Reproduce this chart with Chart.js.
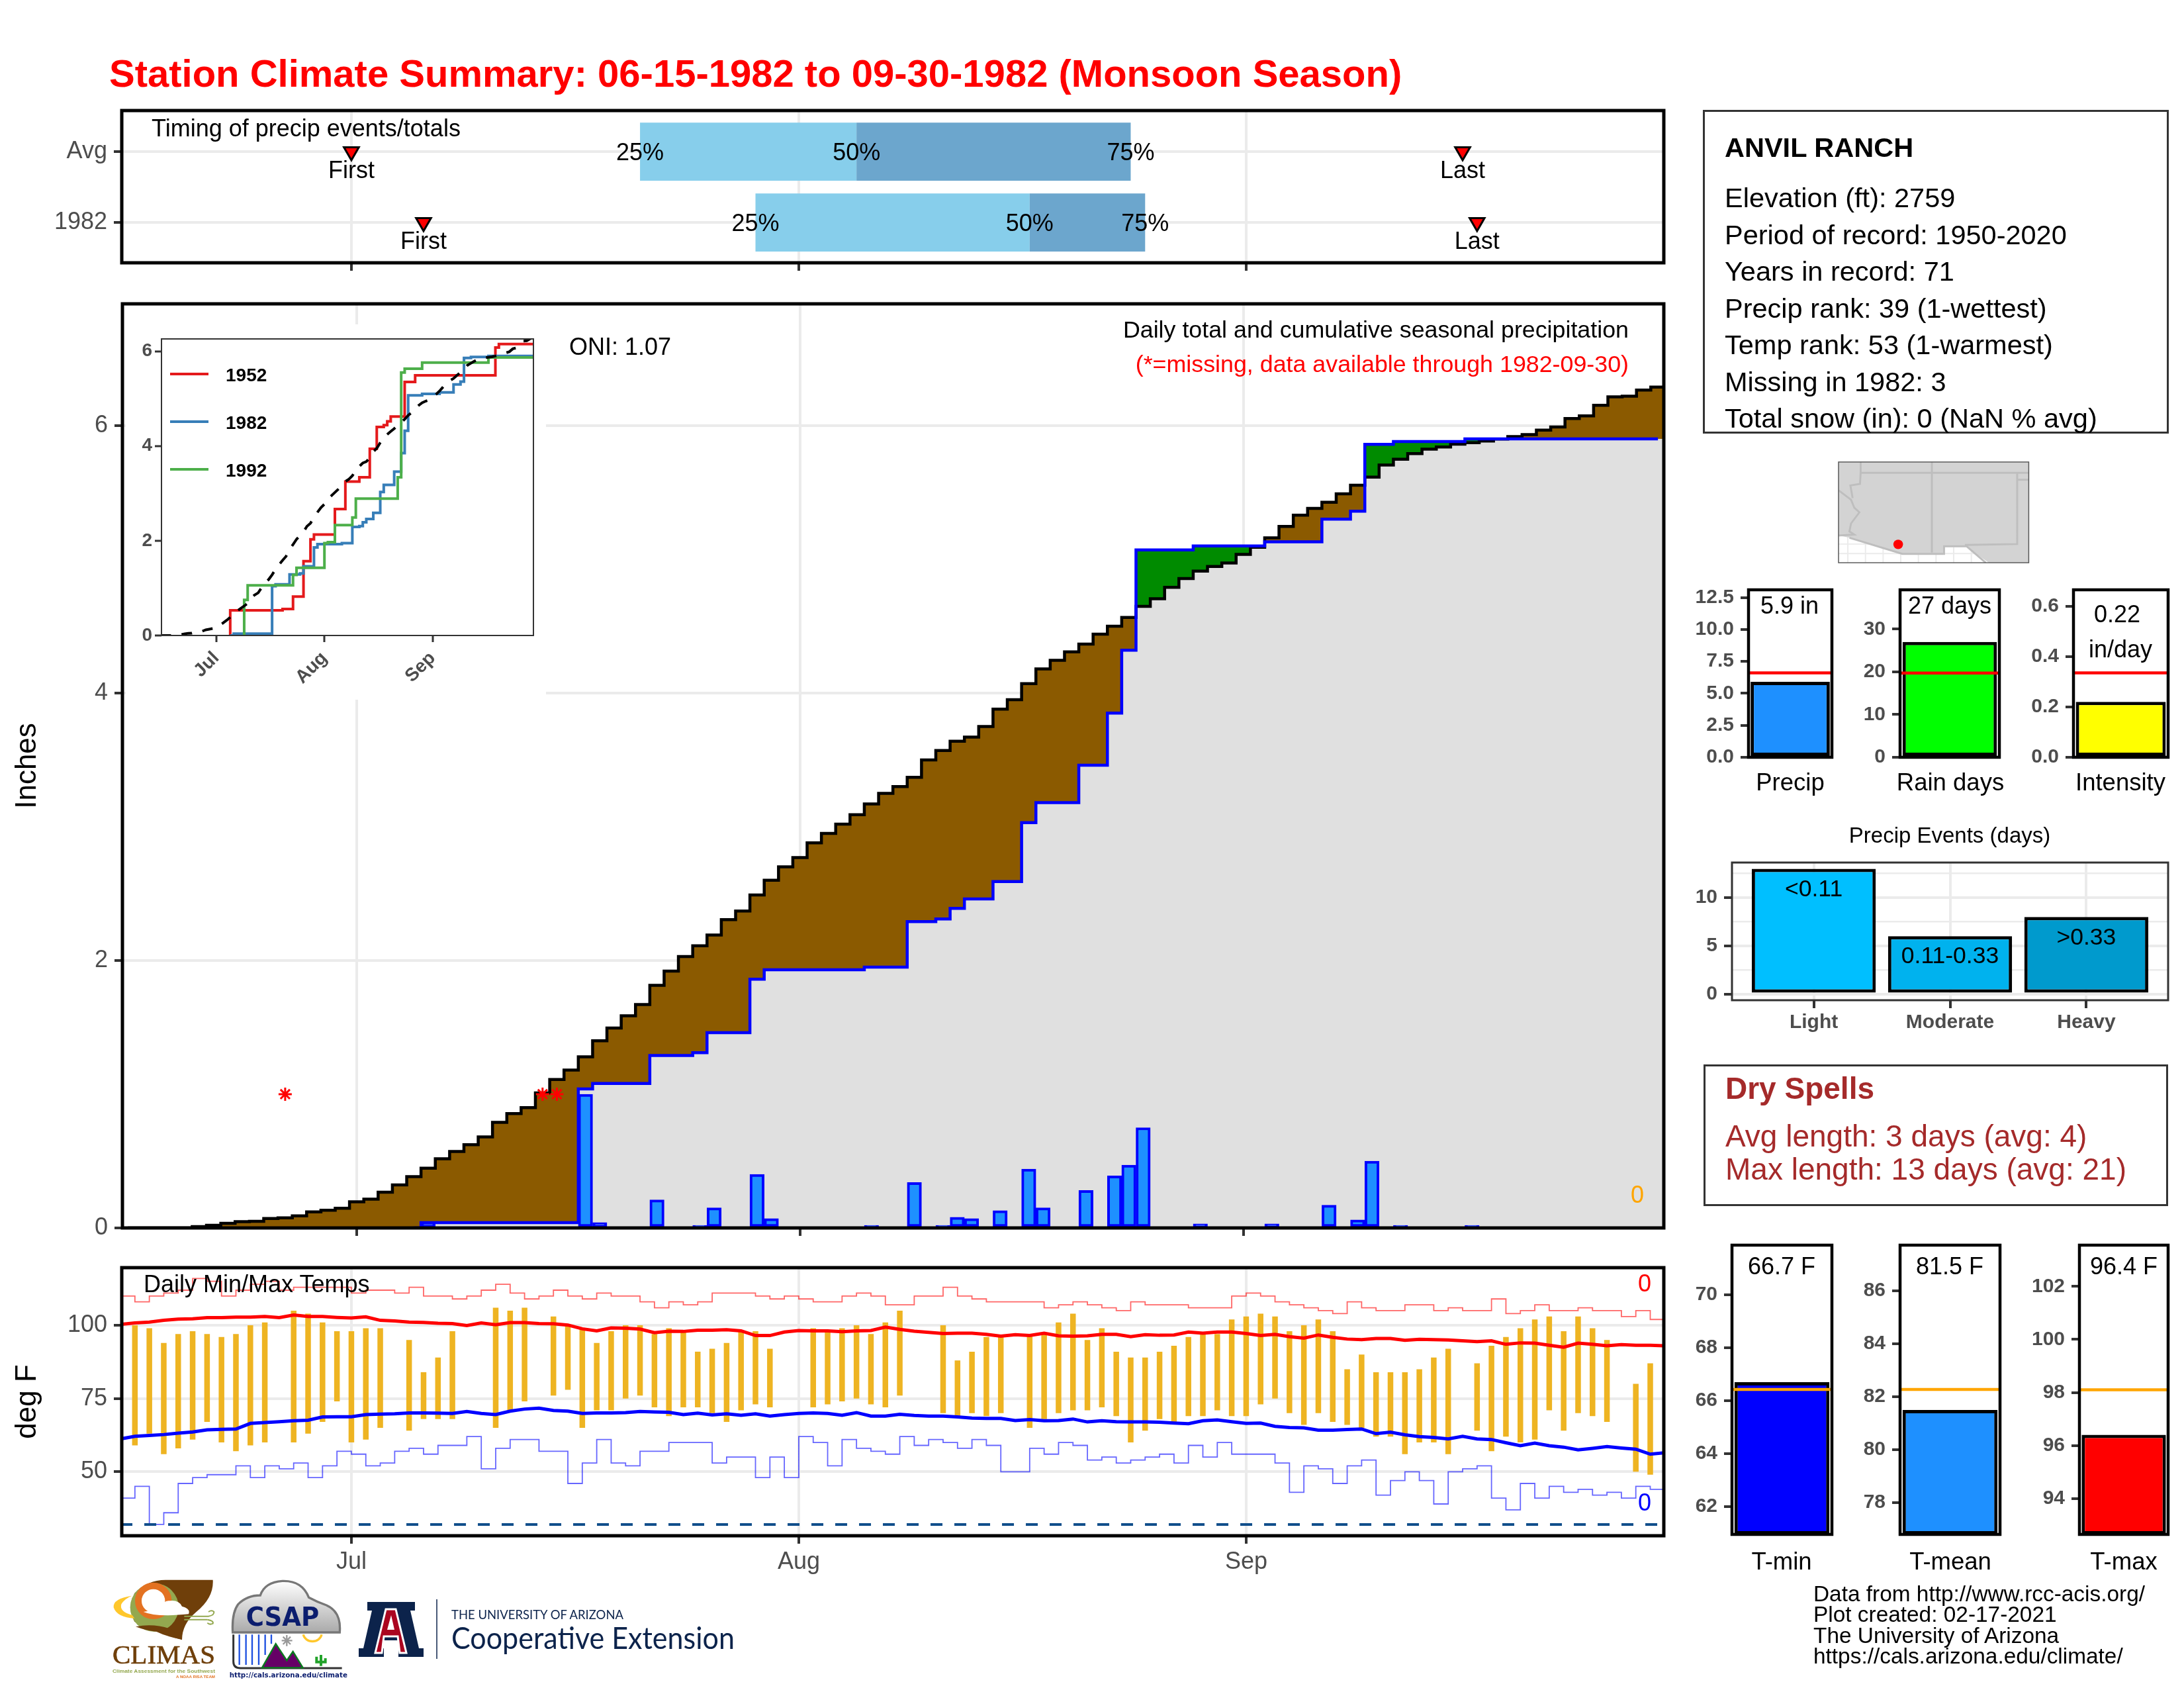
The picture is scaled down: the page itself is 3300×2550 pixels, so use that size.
<!DOCTYPE html>
<html>
<head>
<meta charset="utf-8">
<title>Station Climate Summary</title>
<script src="https://cdn.jsdelivr.net/npm/chart.js@4/dist/chart.umd.js"></script>
<style>
body { margin: 0; background: #fff; width: 3300px; height: 2550px; position: relative; overflow: hidden; font-family: "Liberation Sans", Arial, sans-serif; }
canvas { position: absolute; }
.t { position: absolute; white-space: nowrap; line-height: 0; }
.box { position: absolute; box-sizing: border-box; border: 3px solid #333; }
svg.art { position: absolute; left: 0; top: 0; }
</style>
</head>
<body>
<script>
// Days are counted from Jun 15 (day 0) to Sep 30 (day 107)
const monthTicks = [16, 47, 78];
const monthNames = ['Jul', 'Aug', 'Sep'];

// Average cumulative precip, one value per day
const avgCumPrecip = [
    0, 0, 0, 0, 0, .01, .02, .035, .047, .05,
    .07, .075, .09, .12, .133, .147, .195, .215, .267, .322,
    .383, .447, .517, .572, .622, .68, .79, .855, .90, 1.01,
    1.11, 1.18, 1.28, 1.40, 1.495, 1.586, 1.67, 1.814, 1.92, 2.03,
    2.11, 2.19, 2.305, 2.37, 2.49, 2.6, 2.70, 2.77, 2.88, 2.95,
    3.02, 3.09, 3.17, 3.25, 3.30, 3.37, 3.50, 3.57, 3.64, 3.67,
    3.75, 3.88, 3.95, 4.07, 4.18, 4.245, 4.307, 4.366, 4.44, 4.50,
    4.565, 4.648, 4.705, 4.79, 4.856, 4.912, 4.946, 4.972, 5.037, 5.09,
    5.16, 5.245, 5.33, 5.38, 5.426, 5.49, 5.554, 5.614, 5.705, 5.748,
    5.79, 5.824, 5.84, 5.861, 5.872, 5.884, 5.899, 5.918, 5.933, 5.966,
    5.989, 6.052, 6.072, 6.152, 6.214, 6.22, 6.265, 6.288
];

// 1982 daily precip
const rainDays = [21, 32, 33, 37, 40, 41, 44, 45, 52, 55, 57, 58, 59, 61, 63, 64, 67, 69, 70, 71, 75, 80, 84, 86, 87, 89, 94];
const rainAmounts = [.04, 1.0, .04, .21, .02, .15, .40, .07, .02, .34, .02, .08, .07, .13, .44, .15, .28, .39, .47, .75, .03, .03, .17, .06, .50, .02, .02];
const missingDays = [11, 29, 30];
const missingLevel = 1.0;

// Inset: other years, day of change and the new total
const days1952 = [20, 20, 35, 38, 41, 43, 44, 50, 53, 57, 60, 62, 64, 65, 66, 70, 73, 96, 97, 107];
const total1952 = [0, .53, .56, .82, 1.57, 2.03, 2.13, 2.67, 3.25, 3.34, 3.94, 4.40, 4.44, 4.52, 4.62, 5.35, 5.49, 6.08, 6.15, 6.15];
const days1992 = [24, 24, 25, 38, 39, 47, 48, 50, 55, 56, 68, 69, 70, 75, 94, 107];
const total1992 = [0, .75, 1.06, 1.28, 1.43, 1.95, 1.97, 2.33, 2.49, 2.89, 3.34, 5.55, 5.63, 5.76, 5.87, 5.87];

// Timing panel
const timingRows = ['1982', 'Avg'];
const quantilesAvg = [36, 51, 70];
const quantiles1982 = [44, 63, 71];
const firstDay = [21, 16];
const lastDay = [94, 93];

// Daily temps
const tMax = [
    null, 100, 99, 94, 97, 98, 97, 96, 97, 100,
    101, null, 105, 104, 101, 98, 98, 99, 99, null,
    95, 84, 89, 98, null, null, 106, 105, 106, null,
    103, 100, 99, 94, 98, 100, 100, 97, 99, 98,
    91, 92, 94, 98, 98, 92, null, null, 99, 98,
    99, 100, 97, 101, 105, null, null, 100, 88, 91,
    96, 96, null, 97, 97, 101, 104, 95, 99, 91,
    89, 89, 91, 93, 96, 97, 97, 102, 103, 104,
    103, 98, 100, 102, 98, 85, 90, 84, 84, 84,
    85, 89, 92, null, 87, 93, 96, 99, 102, 103,
    98, 103, 99, 95, null, 80, 87, null
];
const tMin = [
    null, 59, 63, 56, 58, 61, 67, 60, 57, 59,
    60, null, 60, 63, 67, 74, 60, 61, 65, null,
    64, 68, 68, 68, null, null, 65, 71, 74, null,
    76, 78, 65, 71, 71, 75, 76, 72, 69, 72,
    72, 70, 67, 71, 73, 72, null, null, 72, 73,
    74, 75, 73, 72, 76, null, null, 70, 69, 70,
    69, 70, null, 65, 68, 70, 71, 71, 72, 69,
    60, 64, 68, 67, 69, 69, 71, 69, 69, 73,
    75, 70, 66, 70, 67, 66, 65, 62, 62, 56,
    60, 60, 56, null, 64, 57, 62, 60, 61, 71,
    64, 70, 69, 67, null, 50, 49, null
];
const avgHigh = [
    100.3, 100.8, 101.1, 101.7, 102.1, 102.2, 102.6, 102.6, 102.8, 102.8,
    103.0, 102.6, 103.5, 103.0, 103.0, 102.7, 102.5, 102.9, 101.7, 101.5,
    101.1, 101.0, 100.7, 100.6, 99.9, 100.8, 100.2, 100.9, 100.9, 100.6,
    100.5, 100.1, 98.8, 98.1, 99.1, 99.0, 98.7, 97.5, 98.0, 97.9,
    98.3, 98.3, 98.5, 98.1, 96.5, 96.5, 97.7, 98.2, 98.1, 98.1,
    97.8, 98.1, 98.2, 99.4, 98.6, 98.0, 97.6, 97.2, 97.3, 97.3,
    96.9, 96.3, 96.8, 96.5, 97.3, 96.4, 96.3, 96.4, 96.9, 96.9,
    96.1, 96.8, 96.6, 96.7, 97.7, 97.3, 97.7, 97.7, 97.2, 96.5,
    96.9, 96.1, 95.6, 96.7, 95.9, 95.3, 95.1, 95.5, 95.5, 94.9,
    95.2, 95.1, 95.0, 94.7, 94.4, 94.7, 93.5, 94.0, 93.9, 93.2,
    92.5, 93.9, 93.5, 93.0, 93.4, 93.2, 93.2, 93.0
];
const avgLow = [
    61.2, 62.1, 62.4, 62.7, 63.2, 63.6, 64.3, 64.5, 64.6, 66.5,
    66.8, 67.1, 67.4, 67.6, 68.7, 68.8, 68.8, 69.5, 69.7, 69.8,
    70.1, 70.1, 70.0, 69.9, 70.6, 69.9, 69.5, 70.7, 71.4, 71.7,
    70.9, 70.7, 69.9, 70.1, 70.1, 70.2, 70.6, 70.4, 70.3, 69.5,
    70.0, 69.4, 69.8, 69.3, 69.8, 69.0, 69.5, 69.9, 70.1, 69.9,
    69.3, 70.2, 69.0, 69.0, 69.6, 69.2, 69.0, 69.0, 68.7, 68.3,
    68.2, 68.2, 67.5, 67.8, 67.4, 67.5, 68.0, 67.0, 67.4, 67.1,
    67.0, 67.0, 66.9, 66.6, 66.4, 67.4, 67.7, 67.1, 66.5, 66.6,
    65.5, 65.1, 65.0, 64.2, 64.2, 64.4, 64.6, 63.0, 63.5, 62.6,
    62.0, 61.7, 61.2, 62.1, 61.2, 61.0, 59.9, 58.9, 59.8, 58.9,
    58.4, 57.5, 58.0, 58.6, 58.1, 57.7, 56.0, 56.5
];
const recordHigh = [
    110, 108, 110, 111, 112, 116, 115, 110, 112, 114,
    115, 112, 113, 113, 113, 113, 111, 112, 112, 111,
    113, 110, 110, 109, 110, 112, 114, 111, 109, 110,
    112, 110, 109, 111, 110, 110, 108, 106, 108, 107,
    108, 111, 111, 111, 110, 109, 110, 109, 108, 108,
    110, 111, 110, 107, 107, 110, 110, 113, 110, 109,
    108, 108, 108, 108, 106, 107, 108, 107, 106, 105,
    108, 107, 107, 107, 106, 106, 106, 110, 111, 110,
    108, 107, 106, 105, 104, 108, 106, 105, 105, 107,
    107, 105, 106, 105, 105, 109, 104, 105, 107, 105,
    105, 106, 105, 105, 103, 105, 102, 102
];
const recordLow = [
    41, 45, 32, 36, 46, 48, 49, 49, 52, 48,
    52, 51, 53, 48, 52, 57, 56, 52, 53, 57,
    58, 56, 59, 59, 62, 51, 58, 61, 61, 57,
    57, 46, 53, 61, 53, 52, 57, 57, 60, 60,
    60, 53, 55, 55, 48, 55, 48, 62, 60, 52,
    61, 58, 57, 56, 62, 59, 61, 60, 58, 61,
    59, 50, 50, 58, 56, 60, 59, 54, 55, 53,
    54, 55, 56, 53, 59, 55, 60, 56, 56, 56,
    53, 43, 52, 51, 46, 52, 54, 42, 47, 50,
    47, 39, 50, 51, 52, 41, 37, 46, 41, 45,
    43, 44, 42, 43, 41, 45, 44, 44
];
const freezeLine = 32;

// Small summary bars
const precipValue = 5.9, precipAvg = 6.6;
const rainDaysValue = 27, rainDaysAvg = 19.7;
const intensityValue = 0.22, intensityAvg = 0.335;
const eventCategories = ['Light', 'Moderate', 'Heavy'];
const eventCounts = [13, 6, 8];
const eventRanges = ['<0.11', '0.11-0.33', '>0.33'];
const tMinValue = 66.7, tMinAvg = 66.42;
const tMeanValue = 81.5, tMeanAvg = 82.28;
const tMaxValue = 96.4, tMaxAvg = 98.1;

// Cumulative 1982 precip, built from the daily amounts above
const cum1982 = avgCumPrecip.map((_, day) => {
    let total = 0;
    rainDays.forEach((d, i) => { if (d <= day) total += rainAmounts[i]; });
    return total;
});

Chart.defaults.font.family = '"Liberation Sans", Arial, sans-serif';
const GRID = '#EBEBEB', TICK = '#333333', TICKTEXT = '#4D4D4D';

// Frame around the plot area, drawn on top of the marks
const framePlugin = {
    id: 'panelFrame',
    afterDraw(chart, args, opts) {
        const a = chart.chartArea, ctx = chart.ctx;
        ctx.save();
        ctx.strokeStyle = opts.color;
        ctx.lineWidth = opts.width;
        ctx.strokeRect(a.left, a.top, a.right - a.left, a.bottom - a.top);
        ctx.restore();
    }
};

// Text anchored to data coordinates
const textPlugin = {
    id: 'dataText',
    afterDraw(chart, args, opts) {
        const ctx = chart.ctx;
        (opts.items || []).forEach(it => {
            ctx.save();
            ctx.font = it.font;
            ctx.fillStyle = it.color || '#000';
            ctx.textAlign = 'center';
            ctx.textBaseline = 'alphabetic';
            ctx.fillText(it.text, chart.scales.x.getPixelForValue(it.x), chart.scales.y.getPixelForValue(it.y) + (it.dy || 0));
            ctx.restore();
        });
    }
};

// rect is the plot area on the page, pad the room around it inside the canvas
function makeChart(rect, pad, datasets, scales, frame, texts, background) {
    const cv = document.createElement('canvas');
    const w = Math.round(rect.r - rect.l + pad.l + pad.r);
    const h = Math.round(rect.b - rect.t + pad.t + pad.b);
    cv.width = w;
    cv.height = h;
    cv.style.left = (rect.l - pad.l) + 'px';
    cv.style.top = (rect.t - pad.t) + 'px';
    cv.style.width = w + 'px';
    cv.style.height = h + 'px';
    if (background) cv.style.background = background;
    document.body.appendChild(cv);
    scales.x.afterFit = s => { s.height = pad.b; };
    scales.y.afterFit = s => { s.width = pad.l; };
    return new Chart(cv, {
        type: 'line',
        data: { datasets: datasets },
        options: {
            responsive: false,
            animation: false,
            devicePixelRatio: 1,
            layout: { padding: { top: pad.t, right: pad.r } },
            plugins: {
                legend: { display: false },
                tooltip: { enabled: false },
                panelFrame: frame,
                dataText: { items: texts || [] }
            },
            scales: scales
        },
        plugins: [framePlugin, textPlugin]
    });
}

// Linear axis with fixed ticks
function axis(min, max, ticks, fmt, opts) {
    opts = opts || {};
    return {
        type: 'linear',
        min: min,
        max: max,
        offset: false,
        afterBuildTicks: s => { s.ticks = ticks.map(v => ({ value: v })); },
        border: { display: false },
        grid: {
            offset: false,
            display: opts.noTicks ? false : true,
            drawOnChartArea: !!opts.grid,
            color: GRID,
            lineWidth: opts.gridWidth || 4,
            tickColor: opts.tickColor || TICK,
            tickWidth: opts.tickWidth || 4,
            tickLength: opts.tickLength === undefined ? 12 : opts.tickLength
        },
        ticks: {
            display: !opts.noLabels,
            autoSkip: false,
            maxRotation: opts.rotation || 0,
            minRotation: opts.rotation || 0,
            padding: opts.padding === undefined ? 10 : opts.padding,
            color: TICKTEXT,
            font: opts.font || { size: 36 },
            callback: fmt
        },
        title: opts.title ? { display: true, text: opts.title, color: '#000', font: { size: 44 }, padding: { top: 15, bottom: 0 } } : undefined
    };
}
const monthName = v => monthNames[monthTicks.indexOf(v)];
const plain = v => String(v);

function label(text, x, baseline, size, opts) {
    opts = opts || {};
    const d = document.createElement('div');
    d.className = 't';
    d.textContent = text;
    d.style.left = x + 'px';
    d.style.top = (baseline + 1.5 - 0.3465 * size) + 'px';
    d.style.fontSize = size + 'px';
    d.style.color = opts.color || '#000';
    if (opts.bold) d.style.fontWeight = 'bold';
    if (opts.align === 'center') d.style.transform = 'translateX(-50%)';
    if (opts.align === 'right') d.style.transform = 'translateX(-100%)';
    document.body.appendChild(d);
}
function box(l, t, r, b) {
    const d = document.createElement('div');
    d.className = 'box';
    d.style.left = l + 'px';
    d.style.top = t + 'px';
    d.style.width = (r - l) + 'px';
    d.style.height = (b - t) + 'px';
    document.body.appendChild(d);
}

// ---- Timing panel ----
const timingX = axis(0.09, 106.94, monthTicks, monthName, { grid: true, noLabels: true });
const timingY = axis(-0.57, 1.58, [0, 1], v => timingRows[v], { grid: true });
function rowBar(q, from, to, color) {
    return { type: 'bar', indexAxis: 'y', grouped: false, barPercentage: 0.82, categoryPercentage: 1, backgroundColor: color, order: 5, data: q.map(r => ({ y: r.row, x: [r.vals[from], r.vals[to]] })) };
}
const timingQuants = [{ row: 1, vals: quantilesAvg }, { row: 0, vals: quantiles1982 }];
const timingMarks = firstDay.concat(lastDay).map((d, i) => ({ x: d, y: i % 2 }));
const timingTexts = [];
timingQuants.forEach(q => {
    ['25%', '50%', '75%'].forEach((s, i) => timingTexts.push({ x: q.vals[i], y: q.row, text: s, font: '36px "Liberation Sans"', dy: 13 }));
});
firstDay.forEach((d, i) => timingTexts.push({ x: d, y: i, text: 'First', font: '36px "Liberation Sans"', dy: 40 }));
lastDay.forEach((d, i) => timingTexts.push({ x: d, y: i, text: 'Last', font: '36px "Liberation Sans"', dy: 40 }));
makeChart({ l: 184, t: 167, r: 2514, b: 397 }, { l: 184, t: 40, r: 40, b: 40 }, [
    { type: 'scatter', data: timingMarks, pointStyle: 'triangle', rotation: 180, pointRadius: 13, pointBackgroundColor: '#FF0000', pointBorderColor: '#000', pointBorderWidth: 3, order: 1 },
    rowBar(timingQuants, 1, 2, '#6CA6CD'),
    rowBar(timingQuants, 0, 1, '#87CEEB')
], { x: timingX, y: timingY }, { color: '#000', width: 5 }, timingTexts);

// ---- Main precip panel ----
const lastX = 107.5;
const stepData = arr => arr.map((v, d) => ({ x: d, y: v })).concat([{ x: lastX, y: arr[arr.length - 1] }]);
const lowerCum = avgCumPrecip.map((v, d) => Math.min(v, cum1982[d]));
const fillSet = (arr, color, order) => ({ data: stepData(arr), stepped: 'middle', borderWidth: 0, borderColor: 'transparent', pointRadius: 0, fill: { target: 'origin', above: color }, order: order });
const line1982 = cum1982.map((v, d) => ({ x: d, y: d < 20 ? null : v }));
makeChart({ l: 185, t: 459, r: 2514, b: 1855 }, { l: 185, t: 40, r: 40, b: 40 }, [
    { type: 'scatter', data: missingDays.map(d => ({ x: d, y: missingLevel })), pointStyle: 'star', pointRadius: 10, pointBorderColor: '#FF0000', pointBorderWidth: 3, order: 1 },
    { type: 'line', data: line1982, stepped: 'middle', borderColor: '#0000FF', borderWidth: 4.5, pointRadius: 0, order: 2 },
    { type: 'bar', data: rainDays.map((d, i) => ({ x: d, y: rainAmounts[i] })), barPercentage: 1, categoryPercentage: 1, backgroundColor: '#1E90FF', borderColor: '#0000FF', borderWidth: 4, borderSkipped: false, order: 3 },
    { type: 'line', data: stepData(avgCumPrecip), stepped: 'middle', borderColor: '#000', borderWidth: 4.5, pointRadius: 0, order: 4 },
    fillSet(lowerCum, '#E0E0E0', 5),
    fillSet(avgCumPrecip, '#8B5A00', 6),
    fillSet(cum1982, '#008B00', 7)
], {
    x: axis(-0.38, 107.41, monthTicks, monthName, { grid: true, noLabels: true }),
    y: axis(0, 6.91, [0, 2, 4, 6], plain, { grid: true, title: 'Inches' })
}, { color: '#000', width: 5 });

// ---- Inset of other years ----
const insetFont = { size: 28, weight: 'bold' };
const stepPoints = (days, vals) => days.map((d, i) => ({ x: d, y: vals[i] }));
makeChart({ l: 244, t: 512, r: 806, b: 960 }, { l: 54, t: 22, r: 19, b: 97 }, [
    { data: avgCumPrecip.map((v, d) => ({ x: d, y: v })), borderColor: '#000', borderWidth: 4, borderDash: [16, 16], pointRadius: 0, order: 1 },
    { data: stepPoints(days1992, total1992), stepped: 'before', borderColor: '#4DAF4A', borderWidth: 4, pointRadius: 0, order: 2 },
    { data: line1982, stepped: 'before', borderColor: '#377EB8', borderWidth: 4, pointRadius: 0, order: 3 },
    { data: stepPoints(days1952, total1952), stepped: 'before', borderColor: '#E41A1C', borderWidth: 4, pointRadius: 0, order: 4 }
], {
    x: axis(0.3, 106.9, monthTicks, monthName, { font: insetFont, rotation: 45, tickLength: 10, tickWidth: 3, padding: 8 }),
    y: axis(0, 6.26, [0, 2, 4, 6], plain, { font: insetFont, tickLength: 10, tickWidth: 3, padding: 4 })
}, { color: '#333', width: 2 }, null, '#fff');

// ---- Daily temps panel ----
const byDay = arr => arr.map((v, d) => ({ x: d, y: v }));
const tempBars = tMax.map((v, d) => ({ x: d, y: v === null ? null : [tMin[d], v] })).filter(p => p.y !== null);
makeChart({ l: 184, t: 1915, r: 2514, b: 2320 }, { l: 184, t: 40, r: 40, b: 100 }, [
    { data: byDay(avgLow), borderColor: '#0000FF', borderWidth: 5, pointRadius: 0, order: 1 },
    { data: byDay(avgHigh), borderColor: '#FF0000', borderWidth: 5, pointRadius: 0, order: 2 },
    { data: [{ x: 0, y: freezeLine }, { x: 107, y: freezeLine }], borderColor: '#104E8B', borderWidth: 4, borderDash: [18, 18], pointRadius: 0, order: 3 },
    { data: byDay(recordLow), stepped: 'before', borderColor: 'rgba(0,0,255,0.6)', borderWidth: 1.8, pointRadius: 0, order: 4 },
    { data: byDay(recordHigh), stepped: 'before', borderColor: 'rgba(255,0,0,0.6)', borderWidth: 1.8, pointRadius: 0, order: 5 },
    { type: 'bar', data: tempBars, barPercentage: 0.39, categoryPercentage: 1, backgroundColor: '#EEB422', order: 6 }
], {
    x: axis(0.09, 106.94, monthTicks, monthName, { grid: true, padding: 6 }),
    y: axis(28.15, 119.68, [50, 75, 100], plain, { grid: true, title: 'deg F' })
}, { color: '#000', width: 5 });

// ---- Small summary bars ----
const smallFont = { size: 30, weight: 'bold' };
function summaryBar(rect, ymin, ymax, ticks, digits, value, avg, color, avgColor) {
    const ds = [
        { data: [{ x: -0.5, y: avg }, { x: 0.5, y: avg }], borderColor: avgColor, borderWidth: 4.5, pointRadius: 0, order: 1 },
        { type: 'bar', data: [{ x: 0, y: value }], base: ymin, barPercentage: 0.95, categoryPercentage: 1, backgroundColor: color, borderColor: '#000', borderWidth: 5, borderSkipped: false, order: 2 }
    ];
    makeChart(rect, { l: 110, t: 40, r: 12, b: 40 }, ds, {
        x: axis(-0.5, 0.5, [], plain, { noLabels: true, noTicks: true }),
        y: axis(ymin, ymax, ticks, v => v.toFixed(digits), { font: smallFont, padding: 10 })
    }, { color: '#000', width: 4.5 });
}
summaryBar({ l: 2642, t: 890.5, r: 2768, b: 1143 }, 0, 13.1, [0, 2.5, 5, 7.5, 10, 12.5], 1, precipValue, precipAvg, '#1E90FF', '#FF0000');
summaryBar({ l: 2871, t: 890.5, r: 3021, b: 1143 }, 0, 39.2, [0, 10, 20, 30], 0, rainDaysValue, rainDaysAvg, '#00FF00', '#FF0000');
summaryBar({ l: 3133, t: 890.5, r: 3276, b: 1143 }, 0, 0.665, [0, 0.2, 0.4, 0.6], 1, intensityValue, intensityAvg, '#FFFF00', '#FF0000');
summaryBar({ l: 2617, t: 1881, r: 2768, b: 2318 }, 60.94, 71.88, [62, 64, 66, 68, 70], 0, tMinValue, tMinAvg, '#0000FF', '#FFA500');
summaryBar({ l: 2871, t: 1881, r: 3022, b: 2318 }, 76.8, 87.73, [78, 80, 82, 84, 86], 0, tMeanValue, tMeanAvg, '#1E90FF', '#FFA500');
summaryBar({ l: 3142, t: 1881, r: 3276, b: 2318 }, 92.64, 103.56, [94, 96, 98, 100, 102], 0, tMaxValue, tMaxAvg, '#FF0000', '#FFA500');

// ---- Precip events ----
const eventColors = ['#00BFFF', '#00B2EE', '#009ACD'];
const eventY = axis(-0.65, 13.65, [0, 2.5, 5, 7.5, 10, 12.5], v => (v % 5 === 0 ? String(v) : ''), { grid: true, font: smallFont, padding: 10 });
eventY.grid.lineWidth = c => (c.tick && c.tick.value % 5 === 0 ? 4 : 2.5);
eventY.grid.tickColor = c => (c.tick && c.tick.value % 5 === 0 ? TICK : 'transparent');
makeChart({ l: 2617, t: 1303, r: 3276, b: 1511 }, { l: 110, t: 40, r: 12, b: 60 }, [
    { type: 'bar', data: eventCounts.map((v, i) => ({ x: i, y: v })), barPercentage: 0.91, categoryPercentage: 1, backgroundColor: eventColors, borderColor: '#000', borderWidth: 5, borderSkipped: false }
], {
    x: axis(-0.6, 2.6, [0, 1, 2], v => eventCategories[v], { grid: true, font: smallFont, padding: 4 }),
    y: eventY
}, { color: '#333', width: 3 }, eventRanges.map((s, i) => ({ x: i, y: eventCounts[i], text: s, font: '35.5px "Liberation Sans"', dy: i === 1 ? 41 : 42 })));
</script>
<svg class="art" width="3300" height="2550" viewBox="0 0 3300 2550" font-family="Liberation Sans">
  <defs>
    <clipPath id="mapClip"><rect x="491" y="1166" width="593" height="318"/></clipPath>
    <linearGradient id="cloudFill" x1="0" y1="0" x2="0" y2="1"><stop offset="0" stop-color="#fff"/><stop offset="1" stop-color="#aaa"/></linearGradient>
  </defs>
  <!-- locator map -->
  <g transform="translate(2540,140) scale(0.4847,0.4785)">
    <rect x="491" y="1166" width="593" height="318" fill="#fff"/>
    <g clip-path="url(#mapClip)" fill="none">
      <path d="M520 1400V1484M575 1415V1484M630 1430V1484M685 1450V1484M740 1455V1484M795 1455V1484M850 1435V1484M905 1445V1484M491 1425H660M491 1455H1084" stroke="#EBEBEB" stroke-width="4"/>
      <path d="M491 1166H1084V1484H960L940 1470L905 1445L890 1430L820 1432V1456H690L525 1405L491 1398Z" fill="#D3D3D3"/>
      <path d="M560 1166V1200H1084M782 1166V1452M1048 1200V1425L885 1428M1048 1222H1084M491 1255L530 1285L540 1310L556 1325L530 1360L525 1385L540 1395L491 1398M560 1200L558 1235L528 1240L535 1280M525 1405L690 1456H820V1432H890L905 1445L950 1484" stroke="#BEBEBE" stroke-width="6"/>
    </g>
    <rect x="491" y="1166" width="593" height="318" fill="none" stroke="#555" stroke-width="3"/>
    <ellipse cx="677" cy="1426" rx="15" ry="15" fill="#FF0000"/>
  </g>
  <!-- CLIMAS and CSAP logos -->
  <g transform="translate(160,2380) scale(0.3333)">
    <path d="M270 20H485Q490 100 410 165Q345 220 345 292Q290 280 250 250Q190 225 130 210Q100 150 130 80Q190 20 270 20Z" fill="#6F3F0A"/>
    <circle cx="220" cy="145" r="110" fill="#93A84F"/>
    <path d="M135 232Q220 215 300 245Q315 270 335 288Q270 275 230 255Q180 250 135 232Z" fill="#6F3F0A"/>
    <circle cx="215" cy="115" r="68" fill="#fff" stroke="#E37222" stroke-width="30"/>
    <path d="M170 165Q230 190 375 175Q385 150 345 140Q330 110 290 115Q260 110 250 150Z" fill="#fff"/>
    <path d="M118 92Q30 105 35 145Q50 190 130 195L120 180Q60 165 70 130Q85 105 118 92Z" fill="#FFC72C"/>
    <path d="M355 185H465M355 200H460" stroke="#93A84F" stroke-width="6" fill="none"/>
    <path d="M465 185Q492 180 490 165Q480 155 465 165M460 200Q490 205 485 218Q470 225 460 215" stroke="#93A84F" stroke-width="6" fill="none"/>
    <text x="30" y="400" font-family="Liberation Serif" font-size="118" fill="#6F3F0A" stroke="#6F3F0A" stroke-width="2" textLength="465" lengthAdjust="spacingAndGlyphs">CLIMAS</text>
    <text x="30" y="442" font-size="23" font-weight="bold" fill="#93A84F" textLength="465" lengthAdjust="spacingAndGlyphs">Climate Assessment for the Southwest</text>
    <text x="318" y="466" font-size="15" font-weight="bold" fill="#E37222" textLength="177" lengthAdjust="spacingAndGlyphs">A NOAA RISA TEAM</text>
    <path d="M575 258H1060Q1068 165 1000 135Q960 122 920 100Q890 22 800 25Q720 30 700 90Q640 90 600 130Q570 170 575 258Z" fill="url(#cloudFill)" stroke="#777" stroke-width="10"/>
    <text x="635" y="228" font-family="DejaVu Sans" font-weight="bold" font-size="118" fill="#0B1D6E" textLength="332" lengthAdjust="spacingAndGlyphs">CSAP</text>
    <path d="M578 268V390Q578 420 610 420H1070" fill="none" stroke="#333" stroke-width="9"/>
    <path d="M605 268V405M635 268V405M663 268V405M693 268V405M722 268V360M750 268V310" stroke="#1E50E0" stroke-width="7" fill="none"/>
    <path d="M708 418L770 310L820 385L848 345L893 418Z" fill="#660066" stroke="#0A7A1E" stroke-width="7"/>
    <path d="M820 270V320M797 295H845M803 278L837 312M837 278L803 312" stroke="#999" stroke-width="7" fill="none"/>
    <path d="M895 268A42 36 0 0 0 978 268" fill="none" stroke="#FFC72C" stroke-width="10"/>
    <path d="M975 410V360M955 368V392H995V375" stroke="#22A22A" stroke-width="12" fill="none"/>
    <text x="560" y="463" font-family="DejaVu Sans" font-weight="bold" font-size="30" fill="#0B1D6E" textLength="535" lengthAdjust="spacingAndGlyphs">http://cals.arizona.edu/climate</text>
  </g>
  <!-- University of Arizona logo -->
  <polygon points="555,2420 627,2420 627,2433 620,2433 633,2490 640,2490 640,2503 602,2503 602,2490 608,2490 606,2478 576,2478 574,2490 580,2490 580,2503 542,2503 542,2490 549,2490 562,2433 555,2433" fill="#0C234B"/>
  <polygon points="583,2431 598,2431 614,2497 604,2497 601,2472 580,2472 577,2497 567,2497" fill="#AB0520" stroke="#fff" stroke-width="3"/>
  <polygon points="585,2462 596,2462 591,2440" fill="#fff"/>
  <line x1="660" y1="2416" x2="660" y2="2506" stroke="#0C234B" stroke-width="1.5"/>
  <text x="682" y="2446" font-family="Lato" font-size="20" fill="#0C234B" textLength="260" lengthAdjust="spacingAndGlyphs">THE UNIVERSITY OF ARIZONA</text>
  <text x="682" y="2491" font-family="Lato" font-size="46" fill="#0C234B" textLength="428" lengthAdjust="spacingAndGlyphs">Cooperative Extension</text>
</svg>
<script>
// ---- Page text ----
label('Station Climate Summary: 06-15-1982 to 09-30-1982 (Monsoon Season)', 165, 130, 58, { color: '#FF0000', bold: true });
label('Timing of precip events/totals', 229, 205, 36);
label('ONI: 1.07', 860, 535, 36);
label('Daily total and cumulative seasonal precipitation', 2461, 509, 35.8, { align: 'right' });
label('(*=missing, data available through 1982-09-30)', 2461, 561, 35.8, { color: '#FF0000', align: 'right' });
label('0', 2474, 1816, 36, { color: '#FFA500', align: 'center' });
label('Daily Min/Max Temps', 217, 1951, 36);
label('0', 2485, 1950, 36, { color: '#FF0000', align: 'center' });
label('0', 2485, 2281, 36, { color: '#0000FF', align: 'center' });

// inset legend
const legendYears = ['1952', '1982', '1992'];
const legendColors = ['#E41A1C', '#377EB8', '#4DAF4A'];
legendYears.forEach((y, i) => {
    const line = document.createElement('div');
    line.style.cssText = 'position:absolute;left:257px;width:58px;height:4px;top:' + (563 + 72 * i) + 'px;background:' + legendColors[i];
    document.body.appendChild(line);
    label(y, 341, 575 + 72 * i, 28, { bold: true });
});

// station box
box(2573, 166, 3277, 655);
label('ANVIL RANCH', 2606, 236, 41.5, { bold: true });
const stationLines = ['Elevation (ft): 2759', 'Period of record: 1950-2020', 'Years in record: 71', 'Precip rank: 39 (1-wettest)', 'Temp rank: 53 (1-warmest)', 'Missing in 1982: 3', 'Total snow (in): 0 (NaN % avg)'];
stationLines.forEach((s, i) => label(s, 2606, 312 + 55.5 * i, 41.5));

// summary bar labels
label('5.9 in', 2704, 926, 36, { align: 'center' });
label('27 days', 2946, 926, 36, { align: 'center' });
label('0.22', 3199, 939, 36, { align: 'center' });
label('in/day', 3204, 992, 36, { align: 'center' });
label('Precip', 2705, 1193, 36.5, { align: 'center' });
label('Rain days', 2947, 1193, 36.5, { align: 'center' });
label('Intensity', 3204, 1193, 36.5, { align: 'center' });
label('Precip Events (days)', 2946, 1272, 33, { align: 'center' });

// dry spells box
box(2574, 1608, 3276, 1822);
label('Dry Spells', 2607, 1658, 46, { color: '#A52A2A', bold: true });
label('Avg length: 3 days (avg: 4)', 2607, 1730, 46, { color: '#A52A2A' });
label('Max length: 13 days (avg: 21)', 2607, 1780, 46, { color: '#A52A2A' });

// temp summary labels
label('66.7 F', 2692, 1924, 36, { align: 'center' });
label('81.5 F', 2946, 1924, 36, { align: 'center' });
label('96.4 F', 3209, 1924, 36, { align: 'center' });
label('T-min', 2692, 2370, 36.5, { align: 'center' });
label('T-mean', 2947, 2370, 36.5, { align: 'center' });
label('T-max', 3209, 2370, 36.5, { align: 'center' });

// credits
const creditLines = ['Data from http://www.rcc-acis.org/', 'Plot created: 02-17-2021', 'The University of Arizona', 'https://cals.arizona.edu/climate/'];
creditLines.forEach((s, i) => label(s, 2740, 2418 + 31.3 * i, 33.4));
</script>
</body>
</html>
